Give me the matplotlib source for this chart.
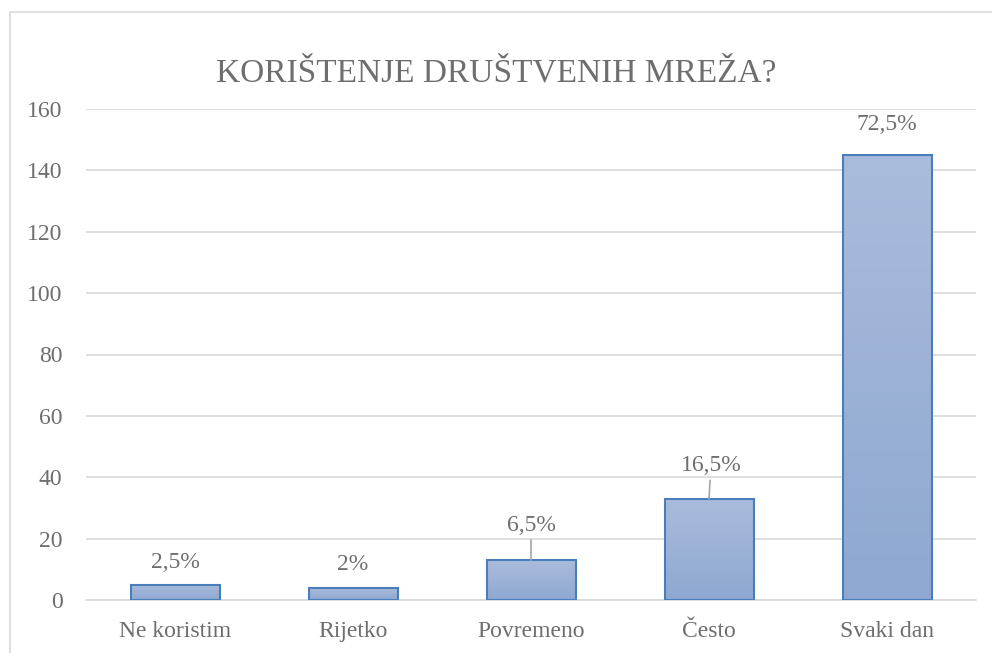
import numpy as np
import matplotlib.pyplot as plt
from matplotlib.patches import Rectangle
from matplotlib.colors import LinearSegmentedColormap

# Data
kategorije = ["Ne koristim", "Rijetko", "Povremeno", "Često", "Svaki dan"]
broj = [5, 4, 13, 33, 145]
postotci = ["2,5%", "2%", "6,5%", "16,5%", "72,5%"]
# label offsets (pixels) and whether a leader line is drawn
pomaci = [(0, 22), (0, 23), (0, 35), (2, 33), (0, 31)]
linija = [False, False, True, True, False]

plt.rcParams['font.family'] = ['Liberation Serif', 'DejaVu Serif']
siva = '#6e6e6e'

fig = plt.figure(figsize=(9.92, 6.53), dpi=100)
ax = fig.add_axes([86 / 992, 1 - 600 / 653, 890 / 992, 491 / 653])

# outer chart border
fig.patches.append(Rectangle((10 / 992, -0.01), 1.0, 1 - 12 / 653 + 0.01,
                             transform=fig.transFigure, fill=False,
                             edgecolor='#d9d9d9', linewidth=1.2))

x = np.arange(len(kategorije))
bars = ax.bar(x, broj, width=0.5, color='none', edgecolor='#4a7ebb',
              linewidth=1.5, zorder=3)

# gradient fill inside each bar
cmap = LinearSegmentedColormap.from_list('g', ['#8ea8d2', '#aabcdb'])
grad = np.linspace(0, 1, 256).reshape(-1, 1)
for b in bars:
    x0, y0 = b.get_x(), b.get_y()
    w, h = b.get_width(), b.get_height()
    im = ax.imshow(grad, cmap=cmap, aspect='auto', origin='lower',
                   extent=[x0, x0 + w, y0, y0 + h], zorder=2)
    im.set_clip_path(b)

for xi, v, t, off, ln in zip(x, broj, postotci, pomaci, linija):
    if ln:
        ax.annotate(t, xy=(xi, v), xytext=off, textcoords='offset pixels',
                    ha='center', va='center', fontsize=17, color=siva,
                    arrowprops=dict(arrowstyle='-', color='#a6a6a6', lw=1.2,
                                    shrinkA=1, shrinkB=0))
    else:
        ax.annotate(t, xy=(xi, v), xytext=off, textcoords='offset pixels',
                    ha='center', va='center', fontsize=17, color=siva)

ax.set_xlim(-0.5, len(kategorije) - 0.5)
ax.set_ylim(0, 160)
ax.set_yticks(range(0, 161, 20))
ax.set_xticks(x)
ax.set_xticklabels(kategorije)
ax.tick_params(axis='both', length=0, labelsize=17, colors=siva)
ax.tick_params(axis='x', pad=15)
ax.tick_params(axis='y', pad=17)
ax.grid(axis='y', color='#d9d9d9', linewidth=1.2, zorder=0)
ax.set_axisbelow(True)
for s in ['top', 'right', 'left']:
    ax.spines[s].set_visible(False)
ax.spines['bottom'].set_color('#d9d9d9')
ax.spines['bottom'].set_linewidth(1.2)

fig.text(0.5, 1 - 73 / 653, 'KORIŠTENJE DRUŠTVENIH MREŽA?', ha='center',
         va='center', fontsize=24, color=siva)

fig.savefig('out.png', dpi=100)
